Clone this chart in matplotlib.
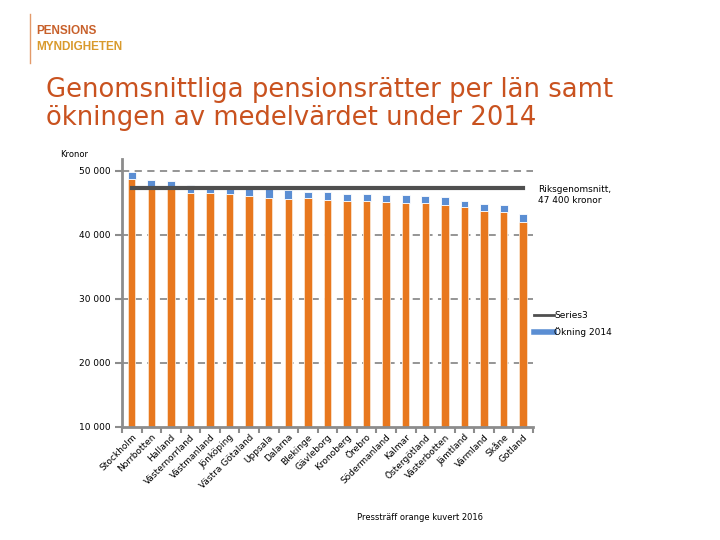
"""Genomsnittliga pensionsrätter per län samt ökningen av medelvärdet under 2014."""

import matplotlib

matplotlib.use("Agg")
import matplotlib.pyplot as plt
import numpy as np
from matplotlib.lines import Line2D

plt.rcParams["font.family"] = ["DejaVu Sans"]

lan = [
    "Stockholm", "Norrbotten", "Halland", "Västernorrland", "Västmanland",
    "Jönköping", "Västra Götaland", "Uppsala", "Dalarna", "Blekinge",
    "Gävleborg", "Kronoberg", "Örebro", "Södermanland", "Kalmar",
    "Östergötland", "Västerbotten", "Jämtland", "Värmland", "Skåne", "Gotland",
]
# pensionsrätt före ökningen (orange) och total efter ökningen (orange + blå)
pensionsratt = [
    48700, 47400, 47300, 46600, 46500, 46350, 46050, 45850, 45570, 45720,
    45470, 45360, 45330, 45200, 44950, 44950, 44720, 44330, 43750, 43590, 42080,
]
totalt = [
    49900, 48600, 48440, 47860, 47700, 47380, 47300, 47350, 46950, 46780,
    46770, 46450, 46450, 46320, 46320, 46100, 45940, 45300, 44890, 44740, 43280,
]
riksgenomsnitt = 47400
y_ticks = [10000, 20000, 30000, 40000, 50000]

ORANGE = "#E8781E"
BLUE = "#5B8ED3"
DARK = "#4F4F4F"
GREY = "#8C8C8C"
TITLE = "#C9521F"

okning = np.array(totalt) - np.array(pensionsratt)
x = np.arange(len(lan))

fig = plt.figure(figsize=(7.2, 5.4), dpi=100)
ax = fig.add_axes([0.1694, 0.2093, 0.5708, 0.4963])

ax.bar(x, np.array(pensionsratt) - 10000, bottom=10000, width=0.38, color=ORANGE,
       edgecolor="#FBE3CB", linewidth=0.6, zorder=2)
ax.bar(x, okning, bottom=pensionsratt, width=0.4, color=BLUE,
       edgecolor="white", linewidth=0.6, zorder=2)
ax.plot([x[0], x[-1]], [riksgenomsnitt, riksgenomsnitt], color=DARK, linewidth=3, zorder=3)

ax.set_xlim(-0.5, len(lan) - 0.5)
ax.set_ylim(10000, 51875)
ax.set_yticks(y_ticks, [f"{v:,}".replace(",", " ") for v in y_ticks])
for v in y_ticks[1:]:
    ax.axhline(v, color=GREY, linestyle=(0, (4, 3)), linewidth=1.3, zorder=1)

ax.set_xticks(x, lan, rotation=45, ha="right", rotation_mode="anchor", fontsize=6.5)
ax.set_xticks(np.arange(-0.5, len(lan)), minor=True)
ax.tick_params(axis="x", which="major", length=0, pad=4)
ax.tick_params(axis="x", which="minor", length=4, color=GREY, width=1.5)
ax.tick_params(axis="y", length=5, color=GREY, width=1.5, labelsize=6.5, pad=3)
for side in ("top", "right"):
    ax.spines[side].set_visible(False)
for side in ("left", "bottom"):
    ax.spines[side].set_color(GREY)
    ax.spines[side].set_linewidth(2)

fig.text(0.747, 0.639, "Riksgenomsnitt,\n47 400 kronor", fontsize=6.5, va="center", ha="left",
         linespacing=1.4)

handles = [Line2D([], [], color=DARK, linewidth=2), Line2D([], [], color=BLUE, linewidth=4)]
fig.legend(handles, ["Series3", "Ökning 2014"], loc="center left", bbox_to_anchor=(0.73, 0.4),
           frameon=False, fontsize=6.5, handlelength=2.2, handletextpad=0.1, labelspacing=0.8)

# logga och rubrik
fig.add_artist(Line2D([0.042, 0.042], [0.883, 0.974], color="#E39A6A", linewidth=1))
fig.text(0.05, 0.942, "PENSIONS", fontsize=8.5, color="#C8602A", va="center",
         family="Liberation Sans", fontweight="bold")
fig.text(0.05, 0.913, "MYNDIGHETEN", fontsize=8.5, color="#D99A2C", va="center",
         family="Liberation Sans", fontweight="bold")
fig.text(0.064, 0.808, "Genomsnittliga pensionsrätter per län samt\nökningen av medelvärdet under 2014",
         fontsize=18.6, color=TITLE, va="center", ha="left", linespacing=1.1)

fig.text(0.083, 0.713, "Kronor", fontsize=6, va="center")
fig.text(0.583, 0.041, "Pressträff orange kuvert 2016", fontsize=6, ha="center", va="center")

fig.savefig("out.png", dpi=100)
